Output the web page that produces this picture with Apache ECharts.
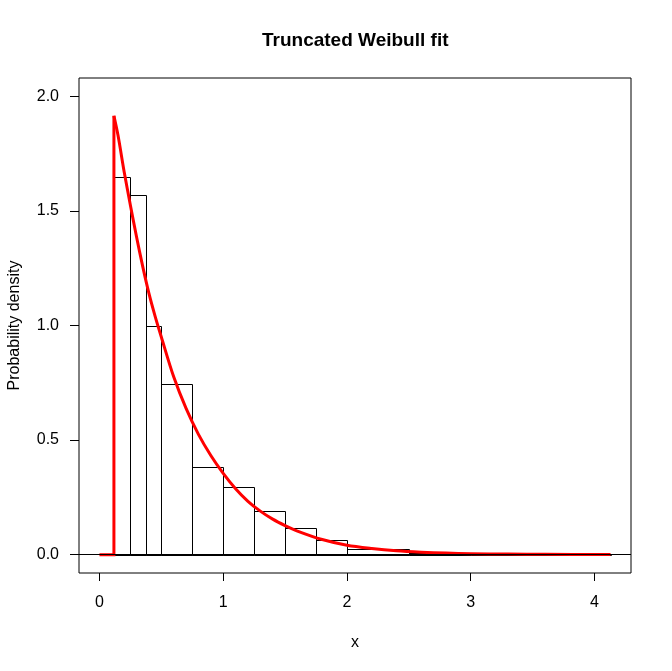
<!DOCTYPE html>
<html>
<head>
<meta charset="utf-8">
<script src="https://cdn.jsdelivr.net/npm/echarts@6/dist/echarts.min.js"></script>
<style>
html,body{margin:0;padding:0;background:#fff;}
#chart{width:672px;height:671px;}
</style>
</head>
<body>
<div id="chart"></div>
<script>
// Histogram bins (unequal widths)
const binStart = [0.117, 0.25, 0.375, 0.5, 0.75, 1.0, 1.25, 1.5, 1.75, 2.0, 2.5, 3.0];
const binEnd   = [0.25, 0.375, 0.5, 0.75, 1.0, 1.25, 1.5, 1.75, 2.0, 2.5, 3.0, 4.13];
const binDensity = [1.647, 1.568, 0.996, 0.746, 0.383, 0.296, 0.191, 0.117, 0.065, 0.025, 0.0066, 0.0015];

// Fitted truncated Weibull density
// zero part below the truncation point, then the jump
const stepX = [0, 0.117, 0.117];
const stepY = [0, 0, 1.915];
// decaying part
const curveX = [0.117, 0.15, 0.20, 0.25, 0.30, 0.35, 0.40, 0.45, 0.50, 0.60, 0.70, 0.80, 0.90, 1.00,
  1.10, 1.20, 1.30, 1.40, 1.50, 1.60, 1.80, 2.00, 2.20, 2.40, 2.60, 2.80, 3.00, 3.30, 3.60, 4.13];
const curveY = [1.915, 1.830, 1.670, 1.525, 1.386, 1.257, 1.140, 1.040, 0.950, 0.776, 0.638, 0.525, 0.433, 0.355,
  0.288, 0.233, 0.190, 0.155, 0.127, 0.103, 0.066, 0.041, 0.027, 0.017, 0.011, 0.007, 0.0045, 0.0025, 0.0013, 0.0004];

const xTicks = [0, 1, 2, 3, 4];
const yTicks = [0, 0.5, 1.0, 1.5, 2.0];

const titleText = 'Truncated Weibull fit';
const xName = 'x';
const yName = 'Probability density';

const FONT = '"Liberation Sans", Arial, sans-serif';

const histData = binStart.map((s, i) => [s, binEnd[i], binDensity[i]]);
const stepData = stepX.map((x, i) => [x, stepY[i]]);
const curveData = curveX.map((x, i) => [x, curveY[i]]);

const RED = '#ff0000';

const chart = echarts.init(document.getElementById('chart'), null, {renderer: 'canvas'});
chart.setOption({
  animation: false,
  backgroundColor: '#fff',
  title: {
    text: titleText,
    left: 257,
    top: 26,
    textStyle: {fontFamily: FONT, fontSize: 19, fontWeight: 'bold', color: '#000'}
  },
  grid: {
    left: 79, right: 41, top: 78, bottom: 98,
    outerBoundsMode: 'none',
    containLabel: false,
    show: true, borderColor: '#000', borderWidth: 1, backgroundColor: 'transparent'
  },
  xAxis: {
    type: 'value',
    min: -0.1652, max: 4.2952,
    name: xName, nameLocation: 'middle', nameGap: 62,
    nameTextStyle: {fontFamily: FONT, fontSize: 16, color: '#000'},
    axisLine: {show: false, onZero: false},
    splitLine: {show: false},
    axisTick: {show: true, length: 8, customValues: xTicks, lineStyle: {color: '#000', width: 1}},
    axisLabel: {customValues: xTicks, margin: 22, fontFamily: FONT, fontSize: 16, color: '#000',
      formatter: v => String(v)}
  },
  yAxis: {
    type: 'value',
    min: -0.08, max: 2.08,
    name: yName, nameLocation: 'middle', nameGap: 56, nameRotate: 90,
    nameTextStyle: {fontFamily: FONT, fontSize: 16, color: '#000'},
    axisLine: {show: false, onZero: false},
    splitLine: {show: false},
    axisTick: {show: true, length: 9, customValues: yTicks, lineStyle: {color: '#000', width: 1}},
    axisLabel: {customValues: yTicks, margin: 20, fontFamily: FONT, fontSize: 16, color: '#000',
      formatter: v => v.toFixed(1)}
  },
  series: [
    {
      type: 'custom',
      data: histData,
      encode: {x: [0, 1], y: 2},
      z: 2,
      renderItem: function (params, api) {
        const p0 = api.coord([api.value(0), api.value(2)]);
        const p1 = api.coord([api.value(1), 0]);
        const x0 = Math.round(p0[0]) + 0.5, x1 = Math.round(p1[0]) + 0.5;
        const y0 = Math.round(p0[1]) + 0.5, y1 = Math.round(p1[1]) + 0.5;
        return {
          type: 'rect',
          shape: {x: x0, y: y0, width: x1 - x0, height: y1 - y0},
          style: {fill: 'none', stroke: '#000', lineWidth: 1}
        };
      },
      markLine: {
        silent: true, symbol: 'none', label: {show: false},
        lineStyle: {color: '#000', width: 1, type: 'solid'},
        data: [{yAxis: 0}],
        z: 10
      }
    },
    {
      type: 'line',
      data: stepData,
      showSymbol: false,
      smooth: false,
      z: 3,
      lineStyle: {color: RED, width: 3, join: 'miter'},
      itemStyle: {color: RED}
    },
    {
      type: 'line',
      data: curveData,
      showSymbol: false,
      smooth: 0.3,
      z: 3,
      lineStyle: {color: RED, width: 3, join: 'round'},
      itemStyle: {color: RED}
    }
  ]
});
</script>
</body>
</html>
